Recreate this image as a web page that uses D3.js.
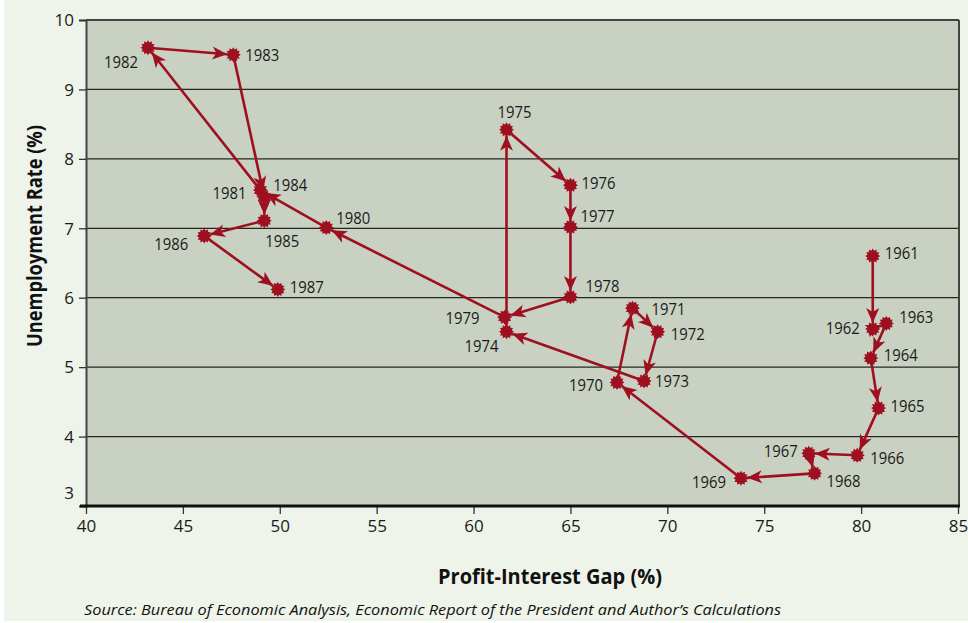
<!DOCTYPE html>
<html>
<head>
<meta charset="utf-8">
<script src="https://cdn.jsdelivr.net/npm/d3@7"></script>
<style>
  body { margin: 0; background: #fff; }
  text { font-family: "Open Sans", sans-serif; }
</style>
</head>
<body>
<svg id="chart" width="968" height="623"></svg>
<script>
// years, in the order the path runs
var years = [1961, 1962, 1963, 1964, 1965, 1966, 1967, 1968, 1969, 1970,
             1971, 1972, 1973, 1974, 1975, 1976, 1977, 1978, 1979, 1980,
             1981, 1982, 1983, 1984, 1985, 1986, 1987];

// profit-interest gap (%), x values
var gap = [80.6, 80.6, 81.3, 80.5, 80.9, 79.8, 77.3, 77.6, 73.8, 67.4,
           68.2, 69.5, 68.8, 61.7, 61.7, 65.0, 65.0, 65.0, 61.6, 52.4,
           49.0, 43.2, 47.6, 49.2, 49.2, 46.1, 49.9];

// unemployment rate (%), y values
var unemp = [6.60, 5.55, 5.63, 5.13, 4.41, 3.73, 3.76, 3.47, 3.40, 4.78,
             5.85, 5.51, 4.80, 5.51, 8.42, 7.62, 7.02, 6.01, 5.72, 7.01,
             7.55, 9.60, 9.50, 7.45, 7.11, 6.89, 6.12];

var xTicks = [40, 45, 50, 55, 60, 65, 70, 75, 80, 85];
var yTicks = [3, 4, 5, 6, 7, 8, 9, 10];

// where each year label sits relative to its point (dx, dy of text centre)
var labelPos = {
  1961: [29, -3], 1962: [-30, -1], 1963: [30, -6], 1964: [30, -3], 1965: [29, -2],
  1966: [30, 3], 1967: [-28, -2], 1968: [29, 8], 1969: [-32, 4], 1970: [-31, 3],
  1971: [36, 1], 1972: [30, 2], 1973: [28, 0], 1974: [-25, 14], 1975: [8, -18],
  1976: [28, -2], 1977: [27, -11], 1978: [32, -11], 1979: [-42, 1], 1980: [27, -10],
  1981: [-31, 3], 1982: [-27, 14], 1983: [29, 0], 1984: [26, -12], 1985: [18, 20],
  1986: [-33, 8], 1987: [29, -2]
};

var red = "#9e1020";
var svg = d3.select("#chart");

var x = d3.scaleLinear().domain([40, 85]).range([86, 958]);
var y = d3.scaleLinear().domain([3, 10]).range([506, 20]);

// page + plot backgrounds
svg.append("rect").attr("x", 4).attr("y", 0).attr("width", 964).attr("height", 621).attr("fill", "#eff4ea");

var defs = svg.append("defs");
var shadow = defs.append("filter").attr("id", "shadow").attr("x", "-5%").attr("y", "-200%").attr("width", "110%").attr("height", "500%");
shadow.append("feGaussianBlur").attr("stdDeviation", 2);

defs.append("marker")
    .attr("id", "arrow")
    .attr("markerUnits", "userSpaceOnUse")
    .attr("viewBox", "-16 -8 18 16")
    .attr("refX", 0).attr("refY", 0)
    .attr("markerWidth", 18).attr("markerHeight", 16)
    .attr("orient", "auto")
  .append("path")
    .attr("d", "M0,0L-15,-6.5L-11,0L-15,6.5Z")
    .attr("fill", red);

svg.append("rect")
    .attr("x", x(40)).attr("y", y(10))
    .attr("width", x(85) - x(40)).attr("height", y(3) - y(10))
    .attr("fill", "#c9d1c3");

// grid lines
svg.append("g").selectAll("line")
  .data(yTicks.filter(function(d) { return d > 3 && d < 10; }))
  .enter().append("line")
    .attr("x1", x(40)).attr("x2", x(85))
    .attr("y1", function(d) { return y(d); })
    .attr("y2", function(d) { return y(d); })
    .attr("stroke", "#262626").attr("stroke-width", 1.3);

// frame: top, right
svg.append("line").attr("x1", x(40)).attr("x2", x(85) + 1).attr("y1", y(10)).attr("y2", y(10))
    .attr("stroke", "#444").attr("stroke-width", 2);
svg.append("line").attr("x1", x(85) + 1).attr("x2", x(85) + 1).attr("y1", y(10)).attr("y2", y(3))
    .attr("stroke", "#444").attr("stroke-width", 2);

// y axis
var yAxis = svg.append("g")
    .attr("transform", "translate(" + x(40) + ",0)")
    .call(d3.axisLeft(y).tickValues(yTicks).tickFormat(d3.format("d")).tickSize(7).tickPadding(5));
yAxis.select(".domain").attr("stroke", "#444").attr("stroke-width", 2);
yAxis.selectAll(".tick line").attr("stroke", "#333").attr("stroke-width", 1.3);
yAxis.selectAll(".tick text")
    .attr("font-family", "Open Sans").attr("font-size", 17).attr("fill", "#1a1a1a")
    .attr("dy", function(d) { return d === 3 ? "-0.45em" : "0.34em"; });
yAxis.selectAll(".tick").filter(function(d) { return d === 3; }).select("line").remove();

// x axis with shadowed baseline
svg.append("line").attr("x1", 80).attr("x2", x(85) + 2).attr("y1", y(3) + 3).attr("y2", y(3) + 3)
    .attr("stroke", "#555").attr("stroke-width", 3).attr("filter", "url(#shadow)");
var xAxis = svg.append("g")
    .attr("transform", "translate(0," + y(3) + ")")
    .call(d3.axisBottom(x).tickValues(xTicks).tickSize(8).tickPadding(6));
xAxis.select(".domain").remove();
xAxis.selectAll(".tick line").attr("stroke", "#333").attr("stroke-width", 1.3);
xAxis.selectAll(".tick text")
    .attr("font-family", "Open Sans").attr("font-size", 17).attr("fill", "#1a1a1a");
svg.append("line").attr("x1", 80).attr("x2", x(85) + 2).attr("y1", y(3)).attr("y2", y(3))
    .attr("stroke", "#111").attr("stroke-width", 3);

// arrows between consecutive years
var pts = years.map(function(yr, i) {
  return { year: yr, px: x(gap[i]), py: y(unemp[i]) };
});
var segs = d3.pairs(pts);

function endPt(d, k) {
  var dx = d[1].px - d[0].px, dy = d[1].py - d[0].py, len = Math.sqrt(dx * dx + dy * dy);
  var back = Math.min(6, len * 0.4);
  return k === 0 ? d[1].px - dx / len * back : d[1].py - dy / len * back;
}

svg.append("g").selectAll("line")
  .data(segs)
  .enter().append("line")
    .attr("x1", function(d) { return d[0].px; })
    .attr("y1", function(d) { return d[0].py; })
    .attr("x2", function(d) { return endPt(d, 0); })
    .attr("y2", function(d) { return endPt(d, 1); })
    .attr("stroke", red)
    .attr("stroke-width", 2.6)
    .attr("marker-end", "url(#arrow)");

// jagged point markers
var star = d3.lineRadial().curve(d3.curveLinearClosed);
var starPts = d3.range(24).map(function(i) {
  return [i * Math.PI / 12, i % 2 ? 5.5 : 7.5];
});

svg.append("g").selectAll("path")
  .data(pts)
  .enter().append("path")
    .attr("transform", function(d) { return "translate(" + d.px + "," + d.py + ")"; })
    .attr("d", star(starPts))
    .attr("fill", red);

// year labels
svg.append("g").selectAll("text")
  .data(pts)
  .enter().append("text")
    .attr("x", function(d) { return d.px + labelPos[d.year][0]; })
    .attr("y", function(d) { return d.py + labelPos[d.year][1]; })
    .attr("dy", "0.36em")
    .attr("text-anchor", "middle")
    .attr("font-size", 16.5)
    .attr("textLength", 34).attr("lengthAdjust", "spacingAndGlyphs")
    .attr("fill", "#1a1a1a")
    .text(function(d) { return d.year; });

// axis titles
svg.append("text")
    .attr("transform", "translate(42,236) rotate(-90)")
    .attr("text-anchor", "middle")
    .attr("font-size", 21).attr("font-weight", "bold")
    .attr("textLength", 222).attr("lengthAdjust", "spacingAndGlyphs")
    .attr("fill", "#111")
    .text("Unemployment Rate (%)");

svg.append("text")
    .attr("x", 550).attr("y", 584)
    .attr("text-anchor", "middle")
    .attr("font-size", 21).attr("font-weight", "bold")
    .attr("textLength", 224).attr("lengthAdjust", "spacingAndGlyphs")
    .attr("fill", "#111")
    .text("Profit-Interest Gap (%)");

svg.append("text")
    .attr("x", 84).attr("y", 615)
    .attr("font-size", 14.5).attr("font-style", "italic")
    .attr("textLength", 697).attr("lengthAdjust", "spacingAndGlyphs")
    .attr("fill", "#111")
    .text("Source: Bureau of Economic Analysis, Economic Report of the President and Author\u2019s Calculations");
</script>
</body>
</html>
